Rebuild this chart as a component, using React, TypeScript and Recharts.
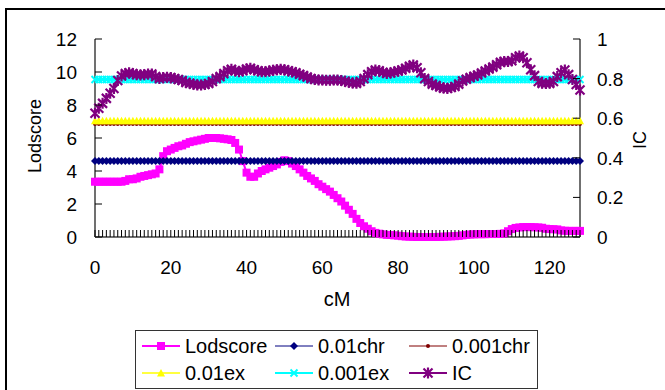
import React from "react";
import { Line, LineChart, XAxis, YAxis } from "recharts";

// categories: one point per cM
const cM = Array.from({ length: 129 }, (_, i) => i);
const xLabels = [0, 20, 40, 60, 80, 100, 120];
const lodTicks = [0, 2, 4, 6, 8, 10, 12];
const icTicks = [0, 0.2, 0.4, 0.6, 0.8, 1];

const lodscore = [
  3.35, 3.35, 3.35, 3.35, 3.35, 3.35, 3.35, 3.35, 3.4, 3.5,
  3.5, 3.55, 3.65, 3.7, 3.75, 3.8, 3.85, 4.1, 4.9, 5.2,
  5.3, 5.4, 5.5, 5.55, 5.65, 5.75, 5.8, 5.85, 5.9, 5.95,
  6.0, 6.0, 6.0, 5.98, 5.95, 5.92, 5.88, 5.7, 5.3, 4.6,
  3.9, 3.65, 3.65, 3.85, 4.0, 4.1, 4.2, 4.3, 4.4, 4.55,
  4.65, 4.6, 4.45, 4.3, 4.1, 3.9, 3.7, 3.55, 3.4, 3.2,
  3.05, 2.9, 2.75, 2.55, 2.35, 2.15, 1.9, 1.65, 1.4, 1.1,
  0.85, 0.65, 0.5, 0.35, 0.25, 0.2, 0.16, 0.13, 0.12, 0.1,
  0.08, 0.05, 0.03, 0.02, 0.01, 0, 0, 0, 0, 0,
  0, 0.01, 0.02, 0.03, 0.04, 0.05, 0.07, 0.1, 0.13, 0.15,
  0.16, 0.17, 0.17, 0.17, 0.18, 0.18, 0.18, 0.19, 0.22, 0.35,
  0.48, 0.55, 0.58, 0.6, 0.6, 0.6, 0.59, 0.58, 0.56, 0.5,
  0.48, 0.47, 0.46, 0.4, 0.38, 0.37, 0.37, 0.37, 0.37,
];

const ic = [
  0.625, 0.65, 0.675, 0.7, 0.726, 0.75, 0.79, 0.813, 0.825, 0.83,
  0.825, 0.82, 0.818, 0.82, 0.823, 0.823, 0.81, 0.8, 0.805, 0.807,
  0.805, 0.8, 0.795, 0.79, 0.78, 0.776, 0.772, 0.768, 0.768, 0.77,
  0.775, 0.785, 0.8, 0.81, 0.825, 0.84, 0.847, 0.84, 0.835, 0.84,
  0.848, 0.852, 0.845, 0.84, 0.835, 0.835, 0.838, 0.842, 0.845, 0.847,
  0.845, 0.84, 0.835, 0.83, 0.822, 0.815, 0.808, 0.8, 0.795, 0.793,
  0.793, 0.792, 0.792, 0.793, 0.793, 0.79, 0.787, 0.782, 0.778, 0.776,
  0.785, 0.8, 0.82, 0.835, 0.843, 0.84, 0.832, 0.826, 0.828, 0.833,
  0.838, 0.843, 0.852, 0.862, 0.869, 0.855, 0.83, 0.8, 0.785, 0.772,
  0.765, 0.758, 0.752, 0.75, 0.755, 0.76, 0.772, 0.788, 0.797, 0.805,
  0.812, 0.818, 0.828, 0.838, 0.848, 0.858, 0.87, 0.882, 0.886, 0.886,
  0.89, 0.905, 0.914, 0.905, 0.88, 0.845, 0.815, 0.785, 0.776, 0.775,
  0.776, 0.785, 0.81, 0.83, 0.843, 0.82, 0.795, 0.77, 0.742,
];

// significance thresholds (constant lines)
const chr01 = 4.6;
const chr001 = 6.85;
const ex01 = 7.05;
const ex001 = 9.55;

const data = cM.map((c, i) => ({
  cM: c, lodscore: lodscore[i], chr01, chr001, ex01, ex001, ic: ic[i],
}));

const FONT = "'Liberation Sans', Arial, sans-serif";

type Mk = (c: string) => (p: any) => React.ReactElement;

const square: Mk = (c) => (p) => (
  <rect key={p.index} x={p.cx - 4} y={p.cy - 4} width={8} height={8} fill={c} />
);
const diamond: Mk = (c) => (p) => (
  <polygon key={p.index} fill={c}
    points={`${p.cx},${p.cy - 4} ${p.cx + 4},${p.cy} ${p.cx},${p.cy + 4} ${p.cx - 4},${p.cy}`} />
);
const circle: Mk = (c) => (p) => <circle key={p.index} cx={p.cx} cy={p.cy} r={2} fill={c} />;
const triangle: Mk = (c) => (p) => (
  <polygon key={p.index} fill={c}
    points={`${p.cx},${p.cy - 4} ${p.cx + 4},${p.cy + 3.5} ${p.cx - 4},${p.cy + 3.5}`} />
);
const cross: Mk = (c) => (p) => (
  <path key={p.index} stroke={c} strokeWidth={2}
    d={`M${p.cx - 3.5},${p.cy - 3.5}L${p.cx + 3.5},${p.cy + 3.5}M${p.cx - 3.5},${p.cy + 3.5}L${p.cx + 3.5},${p.cy - 3.5}`} />
);
const asterisk: Mk = (c) => (p) => (
  <path key={p.index} stroke={c} strokeWidth={2.2}
    d={`M${p.cx - 4.5},${p.cy - 4.5}L${p.cx + 4.5},${p.cy + 4.5}M${p.cx - 4.5},${p.cy + 4.5}L${p.cx + 4.5},${p.cy - 4.5}M${p.cx},${p.cy - 5.5}L${p.cx},${p.cy + 5.5}`} />
);

const series = [
  { key: "lodscore", name: "Lodscore", color: "#FF00FF", axis: "lod", width: 2, marker: square },
  { key: "chr01", name: "0.01chr", color: "#000080", axis: "lod", width: 1, marker: diamond },
  { key: "chr001", name: "0.001chr", color: "#800000", axis: "lod", width: 1, marker: circle },
  { key: "ex01", name: "0.01ex", color: "#FFFF00", axis: "lod", width: 1.5, marker: triangle },
  { key: "ex001", name: "0.001ex", color: "#00FFFF", axis: "lod", width: 2, marker: cross },
  { key: "ic", name: "IC", color: "#800080", axis: "ic", width: 2, marker: asterisk },
];

const XTick = (p: any) => {
  const v = p.payload.value;
  return (
    <g>
      <line x1={p.x} x2={p.x} y1={p.y - 23} y2={p.y - 30} stroke="#000" strokeWidth={1} />
      {xLabels.includes(v) && (
        <text x={p.x} y={p.y + 14} textAnchor="middle" fontSize={19} fontFamily={FONT} fill="#000">{v}</text>
      )}
    </g>
  );
};

const LeftTick = (p: any) => (
  <g>
    <line x1={p.x + 18} x2={p.x + 25} y1={p.y} y2={p.y} stroke="#000" />
    <text x={p.x} y={p.y + 7} textAnchor="end" fontSize={19} fontFamily={FONT} fill="#000">{p.payload.value}</text>
  </g>
);

const RightTick = (p: any) => (
  <g>
    <line x1={p.x - 17} x2={p.x - 24} y1={p.y} y2={p.y} stroke="#000" />
    <text x={p.x} y={p.y + 7} textAnchor="start" fontSize={19} fontFamily={FONT} fill="#000">{p.payload.value}</text>
  </g>
);

function Legend() {
  const cols = [0, 133, 267];
  const rows = [16, 43];
  return (
    <svg width={403} height={59} style={{ position: "absolute", left: 135, top: 330 }}>
      <rect x={0.5} y={0.5} width={402} height={58} fill="#fff" stroke="#333" />
      {series.map((s, i) => {
        const x = cols[i % 3];
        const y = rows[Math.floor(i / 3)];
        return (
          <g key={s.key}>
            <line x1={x + 7} x2={x + 45} y1={y} y2={y} stroke={s.color} strokeWidth={s.width} />
            {s.marker(s.color)({ cx: x + 26, cy: y, index: 0 })}
            <text x={x + 50} y={y + 7} fontSize={20} fontFamily={FONT} fill="#000">{s.name}</text>
          </g>
        );
      })}
    </svg>
  );
}

export default function App() {
  const axisLine = { stroke: "#707070", strokeWidth: 2 };
  return (
    <div style={{ position: "absolute", left: 0, top: 0, width: 665, height: 390, overflow: "hidden", background: "#fff" }}>
      <div style={{ position: "absolute", left: 5, top: 8, width: 658, height: 380, borderTop: "2px solid #000", borderLeft: "2px solid #000" }} />
      <div style={{ position: "absolute", left: 0, top: 0 }}>
        <LineChart width={665} height={390} data={data} margin={{ top: 39, right: 0, bottom: 93, left: 0 }}>
          <XAxis
            dataKey="cM" type="number" domain={[0, 128]} ticks={cM} interval={0}
            tickSize={0} tickMargin={23} tickLine={false} axisLine={axisLine} height={60}
            tick={XTick}
            label={() => (
              <text x={337} y={306} textAnchor="middle" fontSize={20} fontFamily={FONT} fill="#000">cM</text>
            )}
          />
          <YAxis
            yAxisId="lod" domain={[0, 12]} ticks={lodTicks} width={95} interval={0}
            tickSize={0} tickMargin={18} tickLine={false} axisLine={axisLine} tick={LeftTick}
            label={() => (
              <text x={41} y={136} transform="rotate(-90 41 136)" textAnchor="middle" fontSize={18} fontFamily={FONT} fill="#000">Lodscore</text>
            )}
          />
          <YAxis
            yAxisId="ic" orientation="right" domain={[0, 1]} ticks={icTicks} width={85} interval={0}
            tickSize={0} tickMargin={17} tickLine={false} axisLine={axisLine} tick={RightTick}
            label={() => (
              <text x={646} y={140} transform="rotate(-90 646 140)" textAnchor="middle" fontSize={18} fontFamily={FONT} fill="#000">IC</text>
            )}
          />
          {series.map((s) => (
            <Line
              key={s.key} yAxisId={s.axis} dataKey={s.key} name={s.name} type="linear"
              stroke={s.color} strokeWidth={s.width} dot={s.marker(s.color)} activeDot={false}
              isAnimationActive={false}
            />
          ))}
        </LineChart>
      </div>
      <Legend />
    </div>
  );
}
